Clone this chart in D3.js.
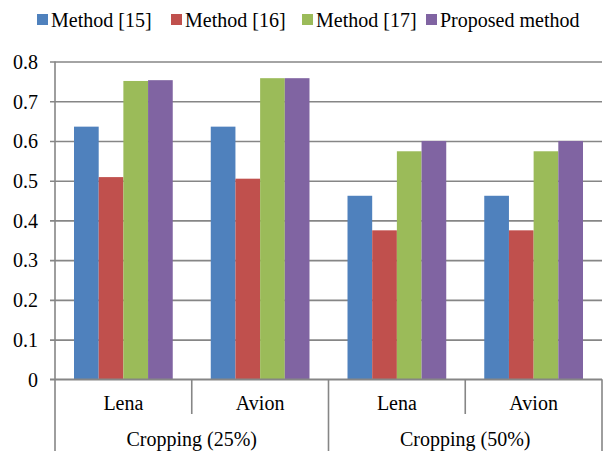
<!DOCTYPE html>
<html>
<head>
<meta charset="utf-8">
<script src="https://cdn.jsdelivr.net/npm/d3@7"></script>
<style>
  html, body { margin: 0; padding: 0; background: #fff; }
  svg text { font-family: "Liberation Serif", "Times New Roman", serif; fill: #000; }
</style>
</head>
<body>
<svg id="chart" width="608" height="451"></svg>
<script>
// Test images (inner labels) and cropping ratios (outer labels)
const images = ["Lena", "Avion", "Lena", "Avion"];
const groups = ["Cropping (25%)", "Cropping (50%)"];
const seriesNames = ["Method [15]", "Method [16]", "Method [17]", "Proposed method"];
const seriesColors = ["#4F81BD", "#C0504D", "#9BBB59", "#8064A2"];

// One value per image for each method
const method15 = [0.636, 0.636, 0.462, 0.462];
const method16 = [0.509, 0.505, 0.375, 0.375];
const method17 = [0.751, 0.758, 0.574, 0.574];
const proposed = [0.753, 0.758, 0.600, 0.600];

const yTicks = [0, 0.1, 0.2, 0.3, 0.4, 0.5, 0.6, 0.7, 0.8];

const series = [method15, method16, method17, proposed];
const catIds = images.map((d, i) => i);

const svg = d3.select("#chart");
const plotLeft = 55, plotRight = 602, plotTop = 61.5, plotBottom = 379.3;
const fontSize = 20;
const serif = "'Liberation Serif', 'Times New Roman', serif";
const gridColor = "#868686";

const x = d3.scaleBand().domain(catIds).range([plotLeft, plotRight]).paddingInner(0).paddingOuter(0);
const xs = d3.scaleBand().domain(d3.range(series.length)).range([0, x.bandwidth()])
  .paddingInner(0).paddingOuter(0.77);
const y = d3.scaleLinear().domain([0, 0.8]).range([plotBottom, plotTop]);

// Horizontal gridlines with small ticks to the left of the axis
const yAxis = d3.axisLeft(y).tickValues(yTicks).tickSize(-(plotRight - plotLeft)).tickFormat(d3.format("~g"));
const yg = svg.append("g").attr("transform", `translate(${plotLeft},0)`).call(yAxis)
  .attr("font-family", serif).attr("font-size", fontSize);
yg.select(".domain").remove();
yg.selectAll(".tick line").attr("x1", -5).attr("stroke", gridColor).attr("stroke-width", 1.6);
yg.selectAll(".tick text").attr("x", -17).attr("dy", "0.34em").attr("fill", "#000");

// Bars
series.forEach((vals, s) => {
  svg.append("g").selectAll("rect").data(vals).join("rect")
    .attr("x", (d, i) => x(i) + xs(s))
    .attr("width", xs.bandwidth())
    .attr("y", d => y(d))
    .attr("height", d => y(0) - y(d))
    .attr("fill", seriesColors[s]);
});

// Value axis line
svg.append("line").attr("x1", plotLeft).attr("x2", plotLeft).attr("y1", plotTop).attr("y2", 451)
  .attr("stroke", gridColor).attr("stroke-width", 1.6);
// Category axis line
svg.append("line").attr("x1", plotLeft - 5).attr("x2", plotRight).attr("y1", plotBottom).attr("y2", plotBottom)
  .attr("stroke", gridColor).attr("stroke-width", 1.6);

// Dividers between images (short) and between cropping groups (long)
const innerDiv = [1, 3].map(i => x(i));
svg.selectAll(".divS").data(innerDiv).join("line")
  .attr("x1", d => d).attr("x2", d => d).attr("y1", plotBottom).attr("y2", 414)
  .attr("stroke", gridColor).attr("stroke-width", 1.6);
const outerDiv = [x(2), plotRight];
svg.selectAll(".divL").data(outerDiv).join("line")
  .attr("x1", d => d).attr("x2", d => d).attr("y1", plotBottom).attr("y2", 451)
  .attr("stroke", gridColor).attr("stroke-width", 1.6);

// Image labels
svg.selectAll(".img").data(images).join("text")
  .attr("x", (d, i) => x(i) + x.bandwidth() / 2)
  .attr("y", 410)
  .attr("text-anchor", "middle")
  .style("font-size", fontSize + "px")
  .text(d => d);

// Cropping group labels
svg.selectAll(".grp").data(groups).join("text")
  .attr("x", (d, g) => x(g * 2) + x.bandwidth())
  .attr("y", 446)
  .attr("text-anchor", "middle")
  .style("font-size", fontSize + "px")
  .text(d => d);

// Legend
const legendX = [37, 171, 302, 426];
const lg = svg.append("g");
seriesNames.forEach((name, s) => {
  lg.append("rect").attr("x", legendX[s]).attr("y", 14).attr("width", 11).attr("height", 11)
    .attr("fill", seriesColors[s]);
  lg.append("text").attr("x", legendX[s] + 14).attr("y", 27)
    .style("font-size", fontSize + "px").text(name);
});
</script>
</body>
</html>
